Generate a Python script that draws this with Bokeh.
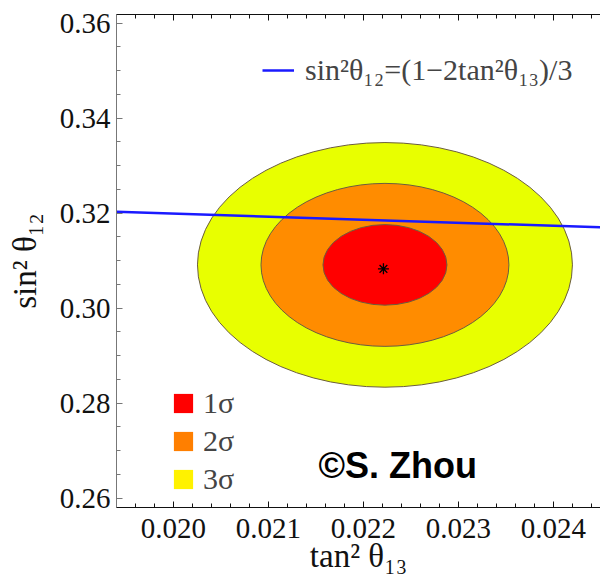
from bokeh.plotting import figure
from bokeh.models import (Range1d, FixedTicker, LinearAxis, Legend, LegendItem, Label,
                          CustomLabelingPolicy)
from bokeh.embed import file_html
from bokeh.resources import INLINE

# ---- data ----
best_fit_x = [0.02221]
best_fit_y = [0.30827]

region_labels = ["1σ", "2σ", "3σ"]
region_center_x = [0.022226, 0.022226, 0.022226]
region_center_y = [0.30911, 0.30911, 0.30911]
region_width = [0.001305, 0.00261, 0.003947]     # full width in tan^2 theta13
region_height = [0.01696, 0.0343, 0.0515]        # full height in sin^2 theta12
region_colors = ["#FF0000", "#FF8C00", "#E8FF00"]
legend_colors = ["#FF0000", "#FF7F00", "#FFF200"]

line_x = [0.0194, 0.0245]
line_y = [0.3203, 0.3170]
line_label = "sin²θ₁₂=(1−2tan²θ₁₃)/3"

x_major = [0.020, 0.021, 0.022, 0.023, 0.024]
x_tick_labels = ["0.020", "0.021", "0.022", "0.023", "0.024"]
x_minor = [round(0.0194 + 0.0002 * i, 4) for i in range(26)]
y_major = [0.26, 0.28, 0.30, 0.32, 0.34, 0.36]
y_tick_labels = ["0.26", "0.28", "0.30", "0.32", "0.34", "0.36"]
y_minor = [round(0.26 + 0.005 * i, 3) for i in range(21)]

x_title = "tan² θ₁₃"
y_title = "sin² θ₁₂"
credit = "©S. Zhou"

SERIF = "Liberation Serif"
NAN = float("nan")

p = figure(width=600, height=587,
           x_range=Range1d(0.0194, 0.024495), y_range=Range1d(0.25805, 0.3618),
           output_backend="svg", toolbar_location=None,
           min_border_left=116, min_border_right=0, min_border_top=14, min_border_bottom=80,
           x_axis_label=x_title, y_axis_label=y_title)
p.outline_line_color = None
p.xgrid.visible = False
p.ygrid.visible = False
p.background_fill_color = "white"
p.border_fill_color = "white"

# regions, drawn biggest first
for i in [2, 1, 0]:
    p.ellipse(x=[region_center_x[i]], y=[region_center_y[i]],
              width=[region_width[i]], height=[region_height[i]],
              fill_color=region_colors[i], line_color="#6b5d3f", line_width=1)

p.scatter(x=best_fit_x, y=best_fit_y, marker="asterisk", size=11,
          line_color="black", line_width=1.3)

blue = p.line(x=line_x, y=line_y, line_color="#1a1aff", line_width=2.5)

# axes styling
for ax, col in [(p.xaxis[0], "#111111"), (p.yaxis[0], "#777777")]:
    ax.axis_line_color = col
    ax.major_tick_line_color = col
    ax.minor_tick_line_color = col
    ax.major_tick_in = 6
    ax.major_tick_out = 0
    ax.minor_tick_in = 4
    ax.minor_tick_out = 0
    ax.major_label_text_font = SERIF
    ax.major_label_text_font_size = "29px"
    ax.major_label_text_color = "#111111"
    ax.axis_label_text_font = SERIF
    ax.axis_label_text_font_size = "33px"
    ax.axis_label_text_font_style = "normal"
    ax.axis_label_text_color = "#111111"

p.xaxis[0].ticker = FixedTicker(ticks=x_major, minor_ticks=x_minor)
p.xaxis[0].major_label_overrides = dict(zip(x_major, x_tick_labels))
p.xaxis[0].major_label_standoff = 11
p.xaxis[0].axis_label_standoff = -3
p.yaxis[0].ticker = FixedTicker(ticks=y_major, minor_ticks=y_minor)
p.yaxis[0].major_label_overrides = dict(zip(y_major, y_tick_labels))
p.yaxis[0].major_label_standoff = 6
p.yaxis[0].axis_label_standoff = 14

top = LinearAxis(ticker=FixedTicker(ticks=x_major, minor_ticks=x_minor),
                 major_label_text_font_size="0px", major_label_standoff=0,
                 major_label_policy=CustomLabelingPolicy(
                     code="const all = [...indices]; for (const i of all) indices.unset(i)"),
                 axis_line_color="#111111", major_tick_line_color="#111111",
                 minor_tick_line_color="#111111",
                 major_tick_in=6, major_tick_out=0, minor_tick_in=4, minor_tick_out=0)
p.add_layout(top, "above")

# legends
sq = []
for i in range(3):
    r = p.quad(left=[NAN], right=[NAN], bottom=[NAN], top=[NAN],
               fill_color=legend_colors[i], line_color=None)
    sq.append(LegendItem(label=region_labels[i], renderers=[r]))
leg1 = Legend(items=sq, location=(55, 11), glyph_width=24, glyph_height=24,
              label_height=24, label_standoff=8, spacing=4, padding=0, margin=0,
              label_text_font=SERIF, label_text_font_size="30px",
              border_line_color=None, background_fill_alpha=0)
p.add_layout(leg1)

leg2 = Legend(items=[LegendItem(label=line_label, renderers=[blue])], location=(146, 420),
              glyph_width=32, glyph_height=20, label_standoff=11, padding=0, margin=0,
              label_text_font=SERIF, label_text_font_size="30px",
              border_line_color=None, background_fill_alpha=0)
p.add_layout(leg2)

p.add_layout(Label(x=0.021526, y=0.26685, text=credit, text_font="Liberation Sans",
                   text_font_style="bold", text_font_size="36px", text_baseline="alphabetic",
                   text_color="black"))

open("out.html", "w").write(file_html(p, INLINE))
